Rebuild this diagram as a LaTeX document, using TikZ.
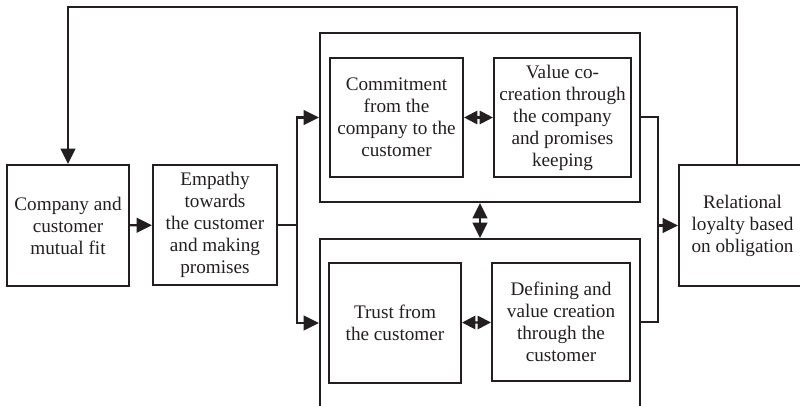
\documentclass[tikz,border=0pt]{standalone}
\usepackage{fontspec}
\setmainfont{Liberation Serif}
\usetikzlibrary{arrows.meta}
\definecolor{ink}{RGB}{35,31,32}
\begin{document}
\begin{tikzpicture}[x=0.75pt,y=-0.75pt,
  line width=1.6pt, draw=ink,
  box/.style={draw=ink, line width=1.6pt, align=center, inner sep=1pt,
    font=\fontsize{14.4}{16.5}\selectfont, text=ink},
  frame/.style={draw=ink, line width=1.6pt},
  arr/.style={draw=ink, -{Triangle[length=11.5pt,width=11pt]}},
  dbl/.style={draw=ink, {Triangle[length=10pt,width=10pt]}-{Triangle[length=10pt,width=10pt]}},
  vdbl/.style={draw=ink, {Triangle[length=11.5pt,width=11pt]}-{Triangle[length=11.5pt,width=11pt]}}]
\useasboundingbox (0,0) rectangle (800,406);
\begin{scope}
\clip (0,0) rectangle (800,406);
% outer frames
\node[frame, minimum width=240pt, minimum height=126.75pt] (upper) at (480,117.5) {};
\node[frame, minimum width=240pt, minimum height=143.25pt] (lower) at (480,334.5) {};
% process boxes
\node[box, minimum width=91.5pt, minimum height=90.75pt] (comp) at (68,225.5)
  {Company and\\customer\\mutual fit};
\node[box, minimum width=93pt, minimum height=90pt] (emp) at (215,225)
  {Empathy\\towards\\the customer\\and making\\promises};
\node[box, minimum width=99.75pt, minimum height=89.25pt] (commit) at (396.5,117.5)
  {Commitment\\from the\\company to the\\customer};
\node[box, minimum width=102.75pt, minimum height=89.25pt] (value) at (562.5,117.5)
  {Value co-\\creation through\\the company\\and promises\\keeping};
\node[box, minimum width=99pt, minimum height=90pt] (trust) at (395,323)
  {Trust from\\the customer};
\node[box, minimum width=103.5pt, minimum height=88.5pt] (define) at (561,322)
  {Defining and\\value creation\\through the\\customer};
\node[box, minimum width=95.25pt, minimum height=90.75pt] (rel) at (742.5,225.5)
  {Relational\\loyalty based\\on obligation};
\coordinate (top) at (0,7);
\coordinate (split) at (297,225);
\coordinate (merge) at (658,117);
% connectors
\draw[arr] (comp) -- (emp);
\draw (emp.east) -- (split);
\draw[arr] (split) |- (upper.west |- commit.west);
\draw[arr] (split) |- (lower.west |- trust.west);
\draw[dbl] (commit) -- (value);
\draw[dbl] (trust) -- (define);
\draw[vdbl] (upper) -- (lower);
\draw (upper.east |- merge) -- (merge) -- (merge |- define) -- (lower.east |- define);
\draw[arr] (merge |- rel) -- (rel);
\draw[arr] ([xshift=-4pt]rel.north) |- (comp.north |- top) -- (comp.north);
\end{scope}
\end{tikzpicture}
\end{document}
